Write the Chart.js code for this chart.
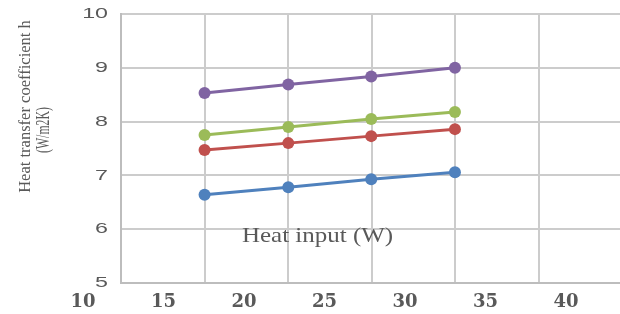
<!DOCTYPE html>
<html><head><meta charset="utf-8">
<script src="https://cdn.jsdelivr.net/npm/chart.js@4/dist/chart.umd.min.js"></script>
<style>
html,body{margin:0;padding:0;background:#fff;}
#wrap{position:relative;width:620px;height:314px;overflow:hidden;background:#fff;}
#c{position:absolute;left:0;top:0;}
.t{position:absolute;white-space:nowrap;color:#595959;font-family:"Liberation Serif","Times New Roman",serif;line-height:1;transform-origin:50% 50%;}
</style></head>
<body>
<div id="wrap"><canvas id="c" width="620" height="314"></canvas>
<span class="t" id="ytitle1">Heat transfer coefficient h</span>
<span class="t" id="ytitle2">(W/m2K)</span>
<span class="t" id="xtitle">Heat input (W)</span>
</div>
<script>
// ---- data ----
const heatInput = [17.55, 22.75, 27.9, 33.1];
const seriesBlue = [6.64, 6.78, 6.93, 7.06];
const seriesRed = [7.47, 7.60, 7.73, 7.86];
const seriesGreen = [7.75, 7.90, 8.05, 8.18];
const seriesPurple = [8.53, 8.69, 8.84, 9.00];
const xTickLabels = [10, 15, 20, 25, 30, 35, 40];
const yTickLabels = [5, 6, 7, 8, 9, 10];
const gridSteps = [0, 1, 2, 3, 4, 5];

const colors = ['#4f81bd', '#c0504d', '#9bbb59', '#8064a2'];
const seriesList = [seriesBlue, seriesRed, seriesGreen, seriesPurple];
const seriesNames = ['Series 1', 'Series 2', 'Series 3', 'Series 4'];

const datasets = seriesList.map((s, i) => ({
  label: seriesNames[i],
  data: heatInput.map((x, j) => ({ x: x, y: s[j] })),
  xAxisID: 'x2', yAxisID: 'y',
  borderColor: colors[i], backgroundColor: colors[i],
  pointBackgroundColor: colors[i], pointBorderColor: colors[i],
  pointBorderWidth: 0, pointRadius: 6, borderWidth: 3,
  tension: 0, fill: false
}));

const stretchY = {
  id: 'stretchY',
  afterLayout(chart) {
    const s = chart.scales.y;
    if (!s || s._stretched) return;
    const orig = s.drawLabels;
    s.drawLabels = function (area) {
      const ctx = this.ctx;
      const ax = this.right - this.options.ticks.padding;
      ctx.save();
      ctx.translate(ax, 0); ctx.scale(1.55, 1); ctx.translate(-ax, 0);
      orig.call(this, area);
      ctx.restore();
    };
    s._stretched = true;
  }
};

const gridColor = '#cccccc';
const axisColor = '#bdbdbd';
const noPad = s => { s.paddingLeft = 0; s.paddingRight = 0; s.paddingTop = 0; s.paddingBottom = 0; };

new Chart(document.getElementById('c'), {
  type: 'line',
  data: { datasets },
  plugins: [stretchY],
  options: {
    responsive: false, animation: false, devicePixelRatio: 1,
    layout: { autoPadding: false, padding: { top: 14, right: 0, bottom: 0, left: 0 } },
    plugins: { legend: { display: false }, tooltip: { enabled: false } },
    scales: {
      y: {
        type: 'linear', position: 'left', min: 5, max: 10,
        afterBuildTicks: s => { s.ticks = yTickLabels.map(v => ({ value: v })); },
        ticks: { padding: 13, color: '#595959', font: { family: '"Liberation Sans", Arial, sans-serif', size: 15 } },
        grid: { color: gridColor, lineWidth: 2, drawTicks: false },
        border: { display: true, color: axisColor, width: 2 },
        afterFit: s => { s.width = 121; noPad(s); }
      },
      x: {
        type: 'linear', position: 'bottom', min: 0, max: 5.976, weight: 0,
        afterBuildTicks: s => { s.ticks = gridSteps.map(v => ({ value: v })); },
        ticks: { display: false },
        grid: { color: gridColor, lineWidth: 2, drawTicks: false },
        border: { display: true, color: axisColor, width: 2 },
        afterFit: s => { s.height = 0; noPad(s); }
      },
      x2: {
        type: 'linear', position: 'bottom', min: 12.36, max: 43.35, weight: 1,
        afterBuildTicks: s => { s.ticks = xTickLabels.map(v => ({ value: v })); },
        ticks: { autoSkip: false, maxRotation: 0, minRotation: 0, padding: 9, color: '#595959',
                 font: { family: '"DejaVu Serif", serif', size: 18, weight: 'bold' } },
        grid: { display: false, drawTicks: false },
        border: { display: false },
        afterFit: s => { s.height = 31; noPad(s); }
      }
    }
  }
});

function place(id, cx, cy, len, size, rot) {
  const el = document.getElementById(id);
  el.style.fontSize = size + 'px';
  const w = el.offsetWidth, h = el.offsetHeight;
  el.style.left = (cx - w / 2) + 'px';
  el.style.top = (cy - h / 2) + 'px';
  el.style.transform = (rot ? 'rotate(-90deg) ' : '') + 'scaleX(' + (len / w) + ')';
}
place('xtitle', 317.5, 235, 151, 21, false);
place('ytitle1', 24.5, 106.5, 173, 17, true);
place('ytitle2', 43, 130, 46, 18, true);
</script>
</body></html>
